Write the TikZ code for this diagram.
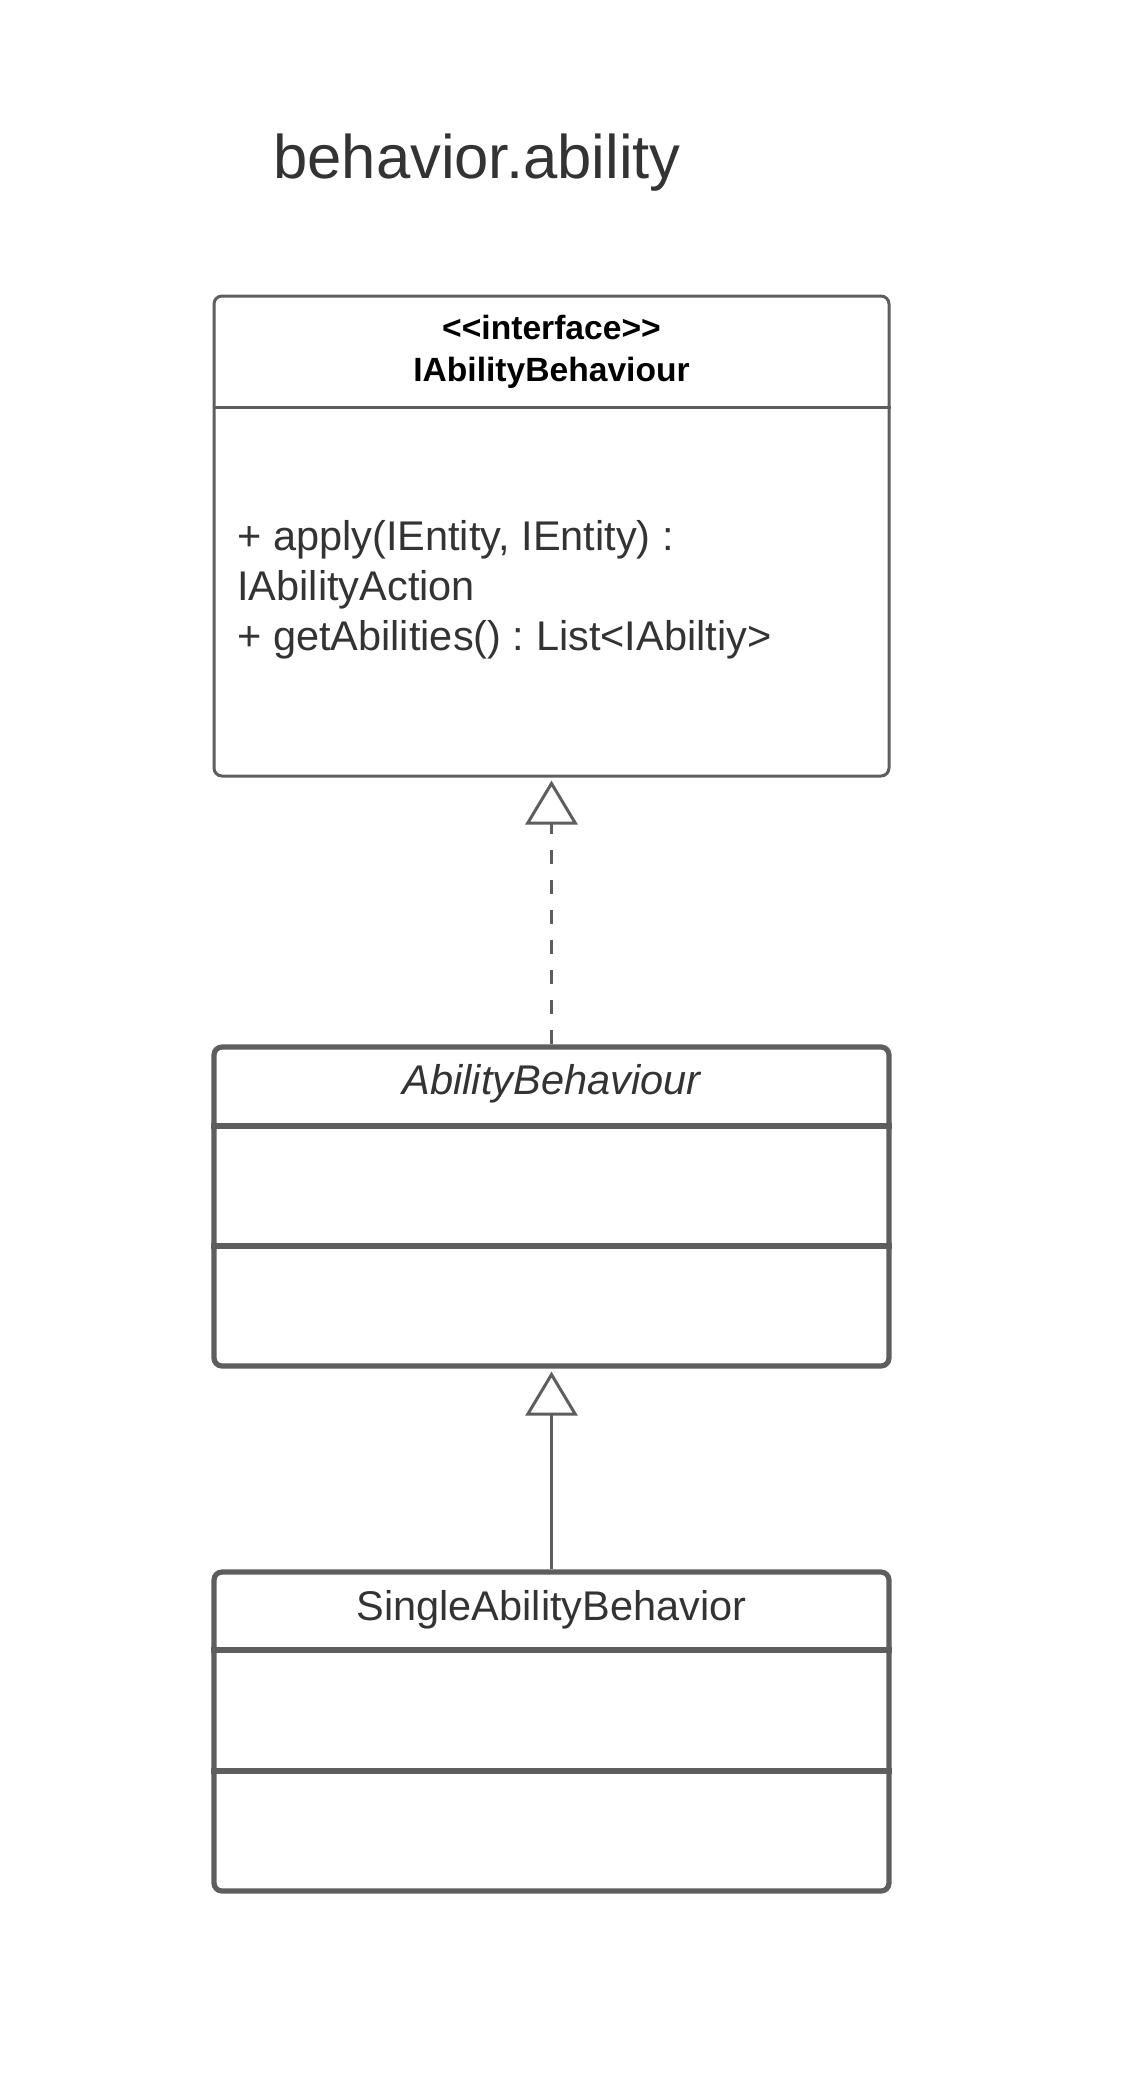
\documentclass[tikz,border=0pt]{standalone}
\usepackage{fontspec}
\setmainfont{Liberation Sans}
\usepackage{xcolor}
\usepackage{tikz}
\usetikzlibrary{positioning,arrows.meta}
\definecolor{frame}{HTML}{5E5E5E}
\definecolor{ink}  {HTML}{333333}
\frenchspacing

\begin{document}
\begin{tikzpicture}[x=0.5pt,y=-0.5pt,
  classbox/.style={draw=frame,fill=white,rounded corners=4pt,
    minimum width=337.5pt,inner sep=0pt},
  member/.style={color=ink,inner sep=0pt,font=\fontsize{20.75}{25}\selectfont},
  hollow/.style={-{Triangle[open,length=22pt,width=26pt,line width=1.5pt]},
    shorten >=1.5pt},
  realize/.style={hollow,draw=frame,line width=1.5pt,dash pattern=on 7pt off 8pt},
  inherit/.style={hollow,draw=frame,line width=1.5pt}]
  \useasboundingbox (0,0) rectangle (1127,2094);
  \def\divider#1#2#3{%
    \draw[draw=frame,line width=#3] (#1.west |- 0,#2) -- (#1.east |- 0,#2);}

  \node[color=ink,font=\fontsize{30.8}{37}\selectfont] (title) at (477,163)
    {behavior.ability};

  % interface
  \node[classbox,line width=1.5pt,minimum height=240pt] (iface) at (551.5,536) {};
  \divider{iface}{407}{1.5pt}
  \node[align=center,font=\bfseries\fontsize{16.8}{21}\selectfont] (ifacehead)
    at (551.5,352) {<\kern0pt<interface>\kern0pt>\\IAbilityBehaviour};
  \node[member,anchor=west,align=left] (ifaceops) at (237,590)
    {+ apply(IEntity, IEntity) :\\IAbilityAction\\+ getAbilities() : List<IAbiltiy>};

  % abstract class
  \node[classbox,line width=2.6pt,minimum height=159.5pt] (abil) at (551.5,1206.5) {};
  \divider{abil}{1126}{2.6pt}
  \divider{abil}{1246}{2.6pt}
  \node[member,font=\itshape\fontsize{20.75}{25}\selectfont] (abilname)
    at (551.5,1084) {AbilityBehaviour};

  % concrete class
  \node[classbox,line width=2.6pt,minimum height=159.5pt] (single) at (551.5,1731.5) {};
  \divider{single}{1650}{2.6pt}
  \divider{single}{1771}{2.6pt}
  \node[member] (singlename) at (551.5,1610) {SingleAbilityBehavior};

  \draw[realize] (abil.north) -- (iface.south);
  \draw[inherit] (single.north) -- (abil.south);
\end{tikzpicture}
\end{document}
